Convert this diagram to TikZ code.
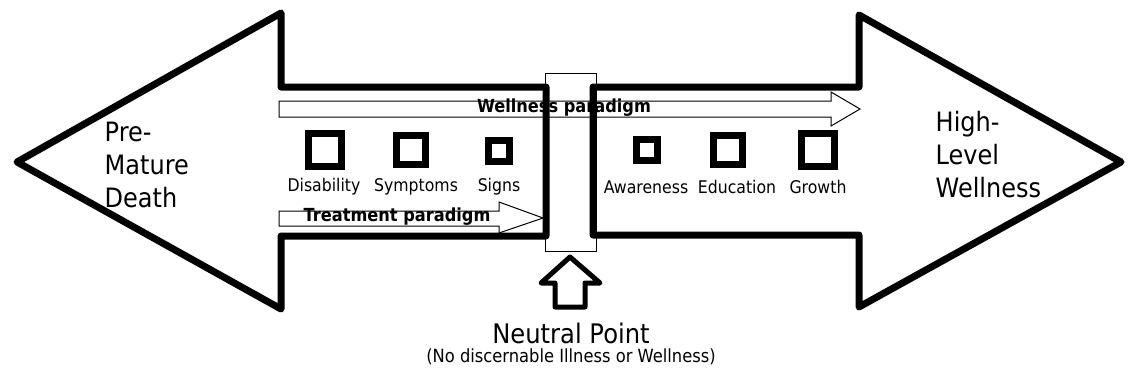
\documentclass[tikz,border=0pt]{standalone}
\usepackage{fontspec}
\setmainfont{DejaVu Sans}[FakeStretch=0.9]

\begin{document}
\begin{tikzpicture}[x=0.75pt,y=-0.75pt,
  bigarrow/.style={line width=5.25pt,line join=round},
  thinarrow/.style={line width=0.75pt},
  box/.style={draw,line width=4.9pt,minimum size=#1*0.75pt,inner sep=0pt},
  lbl/.style={font=\fontsize{13.1}{15}\selectfont},
  big/.style={font=\fontsize{20}{24.75}\selectfont,align=left,anchor=west},
  para/.style={font=\fontsize{13.5}{15}\selectfont\bfseries}]
\useasboundingbox (0,0) rectangle (1128,376);
% neutral bar
\draw[fill=white,line width=0.75pt] (545,73) rectangle (596,251);
% the two big arrows
\draw[bigarrow] (546,87)--(281,87)--(281,13)--(17,162)--(281,309)--(281,236)--(546,236)--cycle;
\draw[bigarrow] (593,87)--(859,87)--(859,15)--(1121,162)--(859,307)--(859,235)--(593,235)--cycle;
% paradigm arrows
\draw[thinarrow] (279,101)--(831,101)--(831,92)--(860,109)--(831,126)--(831,117)--(279,117)--cycle;
\draw[thinarrow] (279,211)--(499,211)--(499,202)--(543,218)--(499,233)--(499,226)--(279,226)--cycle;
\node[para] (wellpar) at (564,108) {Wellness paradigm};
\node[para] (treatpar) at (397,217) {Treatment paradigm};
% neutral point arrow
\draw[line width=3.75pt,line join=round] (570,257)--(600,283)--(585,283)--(585,307)--(555,307)--(555,283)--(541,283)--cycle;
% boxes
\node[box=33.5] (disab) at (325,150) {};
\node[box=29.5] (sympt) at (411,150) {};
\node[box=21.5] (signs) at (499,151) {};
\node[box=21.5] (aware) at (647,150) {};
\node[box=28.5] (educ) at (728,150) {};
\node[box=33.5] (growth) at (818,150) {};
\node[lbl] at (324,187) {Disability};
\node[lbl] at (416,187) {Symptoms};
\node[lbl] at (499,187) {Signs};
\node[lbl] at (646,187) {Awareness};
\node[lbl] at (737,187) {Education};
\node[lbl] at (818,187) {Growth};
% end labels
\node[big] (death) at (100,165) {Pre-\\Mature\\Death};
\node[big] (wellness) at (931,155) {High-\\Level\\Wellness};
\node[font=\fontsize{20.2}{24}\selectfont] (neutral) at (571,333) {Neutral Point};
\node[font=\fontsize{13.6}{15}\selectfont] (nonote) at (571,357) {(No discernable Illness or Wellness)};
\end{tikzpicture}
\end{document}
